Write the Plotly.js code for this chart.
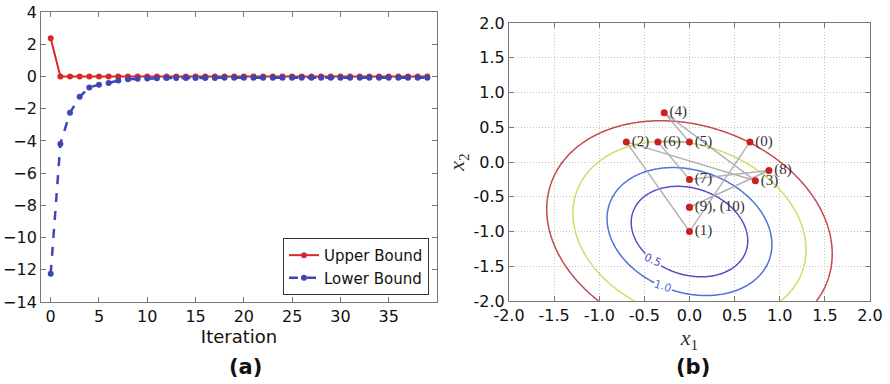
<!DOCTYPE html>
<html>
<head>
<meta charset="utf-8">
<script src="https://cdn.plot.ly/plotly-3.0.1.min.js"></script>
<style>html,body{margin:0;padding:0;background:#fff;}#chart{width:890px;height:384px;}</style>
</head>
<body>
<div id="chart"></div>
<script>
// ---- panel (a): bounds per iteration ----
const iterations = Array.from({length: 40}, (_, i) => i);
const upperBound = [2.37, 0, 0, 0, 0, 0, 0, 0, 0, 0,
  0, 0, 0, 0, 0, 0, 0, 0, 0, 0,
  0, 0, 0, 0, 0, 0, 0, 0, 0, 0,
  0, 0, 0, 0, 0, 0, 0, 0, 0, 0];
const lowerBound = [-12.25, -4.19, -2.25, -1.26, -0.68, -0.51, -0.41, -0.25, -0.18, -0.15,
  -0.12, -0.11, -0.1, -0.1, -0.09, -0.09, -0.09, -0.09, -0.08, -0.08,
  -0.08, -0.08, -0.08, -0.08, -0.08, -0.08, -0.08, -0.08, -0.08, -0.08,
  -0.08, -0.08, -0.08, -0.08, -0.08, -0.08, -0.08, -0.08, -0.08, -0.08];
const xTicksA = [0, 5, 10, 15, 20, 25, 30, 35];
const yTicksA = [-14, -12, -10, -8, -6, -4, -2, 0, 2, 4];

// ---- panel (b): iterates on the contour plot ----
const iterX = [0.67, 0.0, -0.70, 0.73, -0.28, 0.0, -0.35, 0.0, 0.88, 0.0, 0.0];
const iterY = [0.29, -1.0, 0.29, -0.27, 0.71, 0.29, 0.29, -0.25, -0.12, -0.65, -0.65];
const iterLabels = ['(0)', '(1)', '(2)', '(3)', '(4)', '(5)', '(6)', '(7)', '(8)', '(9), (10)'];
const bTicks = [-2.0, -1.5, -1.0, -0.5, 0.0, 0.5, 1.0, 1.5, 2.0];
const bTickText = ['-2.0', '-1.5', '-1.0', '-0.5', '0.0', '0.5', '1.0', '1.5', '2.0'];

// quadratic objective f = qa*x^2 + qb*x*(y-cy) + qc*(y-cy)^2 (centre at (cx, cy))
const qa = 1.25, qb = 0.5, qc = 1.23, cx = 0.0, cy = -1.0;
const contourLevels = [0.5, 1.0, 2.0, 3.0];
const contourColors = ['#5a4cc0', '#4f72d8', '#cede62', '#c4484c'];

const gridN = 241;
const gx = [], gy = [];
for (let i = 0; i < gridN; i++) { gx.push(-2 + 4 * i / (gridN - 1)); gy.push(-2 + 4 * i / (gridN - 1)); }
const gz = gy.map(y => gx.map(x => {
  const dx = x - cx, dy = y - cy;
  return qa * dx * dx + qb * dx * dy + qc * dy * dy;
}));

const traces = [];
contourLevels.forEach((lv, k) => {
  traces.push({
    type: 'contour', x: gx, y: gy, z: gz, xaxis: 'x2', yaxis: 'y2',
    autocontour: false,
    contours: {coloring: 'lines', start: lv, end: lv, size: 1, showlabels: false},
    line: {width: 1.5, smoothing: 1},
    colorscale: [[0, contourColors[k]], [1, contourColors[k]]],
    showscale: false, hoverinfo: 'skip', showlegend: false
  });
});
traces.push({
  type: 'scatter', mode: 'lines', x: iterX, y: iterY, xaxis: 'x2', yaxis: 'y2',
  line: {color: 'rgba(165,165,165,0.85)', width: 1.5}, showlegend: false, hoverinfo: 'skip'
});
traces.push({
  type: 'scatter', mode: 'markers+text', x: iterX, y: iterY, xaxis: 'x2', yaxis: 'y2',
  marker: {color: '#cc2020', size: 7},
  text: iterLabels, textposition: 'middle right',
  textfont: {family: 'Liberation Serif', size: 15, color: '#333'},
  cliponaxis: false, showlegend: false
});
traces.push({
  type: 'scatter', mode: 'lines+markers', name: 'Upper Bound', x: iterations, y: upperBound,
  line: {color: '#d42a2a', width: 2}, marker: {color: '#d42a2a', size: 6}
});
traces.push({
  type: 'scatter', mode: 'lines+markers', name: 'Lower Bound', x: iterations, y: lowerBound,
  line: {color: '#3d47b3', width: 2.5, dash: 'dash'}, marker: {color: '#3d47b3', size: 6}
});

const tickFont = {family: 'DejaVu Sans', size: 16, color: '#111'};
const axisCommon = {
  showline: true, linecolor: '#777', linewidth: 1, mirror: 'ticks',
  ticks: 'inside', ticklen: 5, tickcolor: '#777', zeroline: false,
  tickfont: tickFont, automargin: false
};

const layout = {
  width: 890, height: 384,
  margin: {l: 0, r: 0, t: 0, b: 0},
  paper_bgcolor: '#fff', plot_bgcolor: '#fff',
  font: {family: 'DejaVu Sans', color: '#111'},
  showlegend: true,
  legend: {
    x: 0.482, xanchor: 'right', y: 0.232, yanchor: 'bottom',
    bgcolor: '#fff', bordercolor: '#333', borderwidth: 1,
    font: {family: 'DejaVu Sans', size: 15, color: '#111'}
  },
  xaxis: Object.assign({}, axisCommon, {
    domain: [0.0461, 0.491], range: [-1, 40], tickvals: xTicksA, showgrid: false,
    title: {text: 'Iteration', font: {family: 'DejaVu Sans', size: 18, color: '#111'}, standoff: 4}
  }),
  yaxis: Object.assign({}, axisCommon, {
    domain: [0.2135, 0.96875], range: [-14, 4], tickvals: yTicksA, showgrid: false
  }),
  xaxis2: Object.assign({}, axisCommon, {
    domain: [0.5719, 0.9775], range: [-2, 2], anchor: 'y2',
    tickvals: bTicks, ticktext: bTickText,
    showgrid: true, gridcolor: '#c4c4c4', griddash: '1px,2px', gridwidth: 1,
    title: {text: '<i>x</i><sub>1</sub>', font: {family: 'Liberation Serif', size: 22, color: '#333'}, standoff: 2}
  }),
  yaxis2: Object.assign({}, axisCommon, {
    domain: [0.216, 0.940], range: [-2, 2], anchor: 'x2',
    tickvals: bTicks, ticktext: bTickText,
    showgrid: true, gridcolor: '#c4c4c4', griddash: '1px,2px', gridwidth: 1,
    title: {text: '<i>x</i><sub>2</sub>', font: {family: 'Liberation Serif', size: 22, color: '#333'}, standoff: 2}
  }),
  annotations: [
    {text: '<b>(a)</b>', xref: 'paper', yref: 'paper', x: 0.2764, y: 0.0443, xanchor: 'center', yanchor: 'middle',
     showarrow: false, font: {family: 'DejaVu Sans', size: 21, color: '#111'}},
    {text: '<b>(b)</b>', xref: 'paper', yref: 'paper', x: 0.7787, y: 0.0443, xanchor: 'center', yanchor: 'middle',
     showarrow: false, font: {family: 'DejaVu Sans', size: 21, color: '#111'}},
    {text: '0.5', xref: 'x2', yref: 'y2', x: -0.40, y: -1.41, textangle: 25, showarrow: false,
     bgcolor: '#fff', borderpad: 0, font: {family: 'DejaVu Sans', size: 11, color: contourColors[0]}},
    {text: '1.0', xref: 'x2', yref: 'y2', x: -0.29, y: -1.79, textangle: 18, showarrow: false,
     bgcolor: '#fff', borderpad: 0, font: {family: 'DejaVu Sans', size: 11, color: contourColors[1]}}
  ]
};

Plotly.newPlot('chart', traces, layout, {displayModeBar: false, staticPlot: true});
</script>
</body>
</html>
